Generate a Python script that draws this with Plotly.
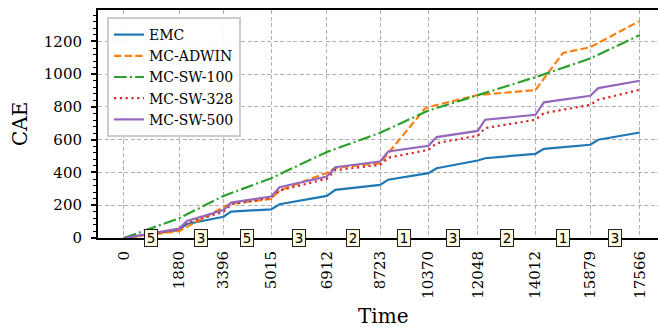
import plotly.graph_objects as go

# ---------------- data ----------------
tick_vals = [0, 1880, 3396, 5015, 6912, 8723, 10370, 12048, 14012, 15879, 17566]
segment_labels = ["5", "3", "5", "3", "2", "1", "3", "2", "1", "3"]

t_common = [0, 1880, 2150, 3396, 3650, 5015, 5300, 6912, 7200, 8723, 9000,
            10370, 10650, 12048, 12300, 14012, 14300, 15879, 16150, 17566]

emc = [0, 49, 86, 130, 161, 175, 206, 257, 294, 324, 356,
       396, 426, 473, 487, 514, 544, 569, 600, 644]
sw500 = [0, 57, 104, 171, 216, 253, 310, 375, 432, 467, 528,
         563, 616, 654, 722, 752, 828, 868, 915, 960]
sw328 = [0, 52, 92, 160, 205, 245, 290, 362, 415, 446, 490,
         538, 579, 624, 671, 722, 762, 813, 844, 905]

t_sw100 = [0, 1880, 3396, 5015, 6912, 8723, 10370, 12048, 14012, 15879, 17566]
sw100 = [0, 120, 257, 365, 525, 642, 778, 872, 982, 1096, 1239]

t_adwin = [0, 1880, 3396, 3650, 5015, 5300, 6912, 7200, 8723, 10250, 10370,
           12048, 14012, 14950, 15879, 17566]
adwin = [0, 42, 188, 210, 238, 290, 398, 428, 457, 790, 800,
         873, 903, 1130, 1165, 1325]

# ---------------- figure ----------------
W, H = 658, 327
ML, MR, MT, MB = 98, 0, 10, 89
serif = "DejaVu Serif"

fig = go.Figure()

fig.add_trace(go.Scatter(x=t_common, y=emc, mode="lines", name="EMC",
                         line=dict(color="#1f77b4", width=2.2)))
fig.add_trace(go.Scatter(x=t_adwin, y=adwin, mode="lines", name="MC-ADWIN",
                         line=dict(color="#ff7f0e", width=2.2, dash="7.4px,3.2px")))
fig.add_trace(go.Scatter(x=t_sw100, y=sw100, mode="lines", name="MC-SW-100",
                         line=dict(color="#2ca02c", width=2.2, dash="12.8px,3.2px,2px,3.2px")))
fig.add_trace(go.Scatter(x=t_common, y=sw328, mode="lines", name="MC-SW-328",
                         line=dict(color="#d62728", width=2.2, dash="2.2px,3.6px")))
fig.add_trace(go.Scatter(x=t_common, y=sw500, mode="lines", name="MC-SW-500",
                         line=dict(color="#9467bd", width=2.2)))

annotations = []
for i, lab in enumerate(segment_labels):
    mid = (tick_vals[i] + tick_vals[i + 1]) / 2
    annotations.append(dict(x=mid, y=0, xref="x", yref="y", text=lab,
                            showarrow=False, font=dict(family="DejaVu Sans", size=13.5, color="black"),
                            bgcolor="#fcfbe0", bordercolor="#222222", borderwidth=1,
                            borderpad=1, width=10, height=14))

annotations.append(dict(x=20, y=124, xref="paper", yref="paper", text="CAE",
                        showarrow=False, textangle=-90,
                        font=dict(family=serif, size=20, color="black")))
annotations.append(dict(x=383, y=316, xref="paper", yref="paper", text="Time",
                        showarrow=False,
                        font=dict(family=serif, size=20, color="black")))
# convert pixel positions to paper coords
for a in annotations[-2:]:
    a["x"] = (a["x"] - ML) / (W - ML - MR)
    a["y"] = 1 - (a["y"] - MT) / (H - MT - MB)
    a["xanchor"] = "center"
    a["yanchor"] = "middle"

fig.update_layout(
    width=W, height=H,
    margin=dict(l=ML, r=MR, t=MT, b=MB, pad=0),
    paper_bgcolor="white", plot_bgcolor="white",
    font=dict(family=serif, size=15, color="black"),
    showlegend=True,
    legend=dict(x=(107 - ML) / (W - ML - MR), y=1 - (17 - MT) / (H - MT - MB),
                xanchor="left", yanchor="top",
                bgcolor="rgba(255,255,255,0.9)", bordercolor="#cccccc", borderwidth=2,
                font=dict(family=serif, size=14, color="black"),
                itemwidth=30, tracegroupgap=0),
    annotations=annotations,
)

fig.update_xaxes(
    range=[-880, 18185],
    tickmode="array", tickvals=tick_vals, ticktext=[str(v) for v in tick_vals],
    tickangle=-90, ticks="outside", ticklen=5, tickcolor="rgba(0,0,0,0)",
    tickfont=dict(family=serif, size=15, color="black"),
    showgrid=True, gridcolor="#b0b0b0", gridwidth=1, griddash="4px,2.5px",
    showline=True, linecolor="black", linewidth=2, mirror=True,
    zeroline=False,
)
fig.update_yaxes(
    range=[0, 1392],
    tickmode="array", tickvals=[0, 200, 400, 600, 800, 1000, 1200],
    ticks="outside", ticklen=5, tickwidth=1.5, tickcolor="black",
    minor=dict(dtick=40, tick0=0, ticks="outside", ticklen=3, tickwidth=1.2,
               tickcolor="black", showgrid=False),
    tickfont=dict(family=serif, size=15, color="black"),
    ticklabelstandoff=6,
    showgrid=True, gridcolor="#b0b0b0", gridwidth=1, griddash="4px,2.5px",
    showline=True, linecolor="black", linewidth=2, mirror=False,
    zeroline=False,
)

fig.write_html("out.html")
